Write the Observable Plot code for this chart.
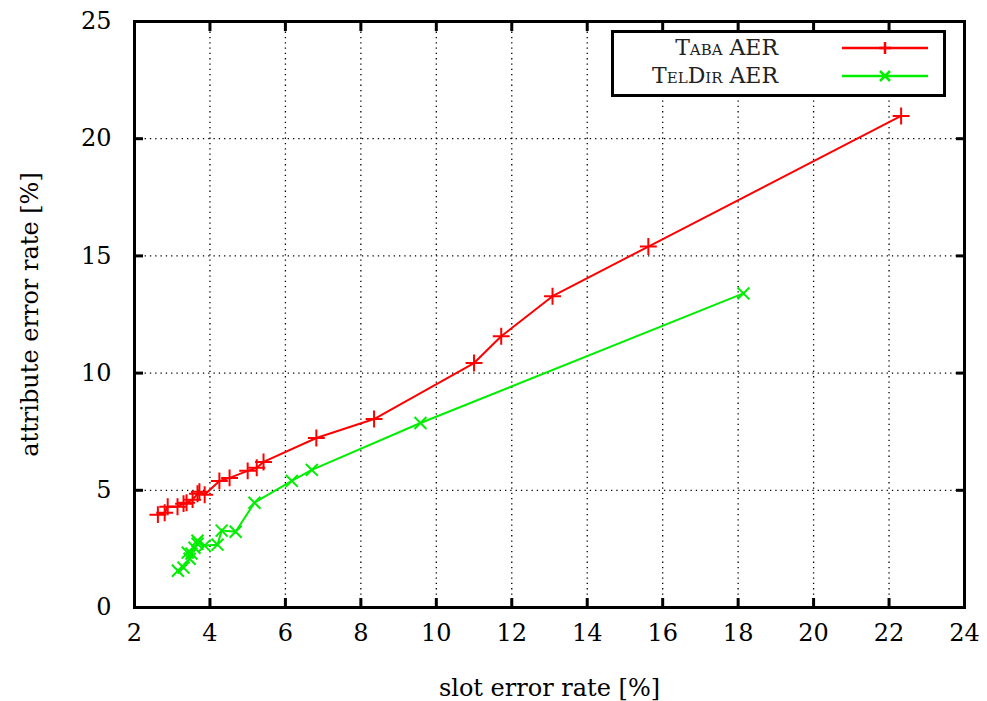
<!DOCTYPE html>
<html><head><meta charset="utf-8">
<script src="https://cdn.jsdelivr.net/npm/d3@7"></script>
<script src="https://cdn.jsdelivr.net/npm/@observablehq/plot@0.6"></script>
<style>
body{margin:0;background:#fff;}
#wrap{position:relative;width:987px;height:701px;font-family:'DejaVu Serif';}
#wrap svg text{fill:#000;}
#legend{position:absolute;left:611px;top:30px;width:329px;height:61px;border:3px solid #000;background:#fff;}
.row{position:absolute;left:0;width:100%;height:30px;}
.lab{position:absolute;right:165px;font-family:'DejaVu Serif';font-size:22px;font-variant:small-caps;color:#222;line-height:30px;}
.row svg{position:absolute;left:226px;top:0;}
</style></head><body>
<div id="wrap"></div>
<script>
const tabaX = [2.62, 2.80, 2.88, 3.14, 3.30, 3.38, 3.54, 3.67, 3.72, 3.86, 4.25, 4.52, 5.00, 5.24, 5.42, 6.82, 8.35, 11.0, 11.72, 13.08, 15.62, 22.32];
const tabaY = [3.96, 4.04, 4.30, 4.30, 4.43, 4.47, 4.60, 4.85, 4.94, 4.81, 5.40, 5.53, 5.83, 5.96, 6.21, 7.23, 8.04, 10.43, 11.57, 13.28, 15.40, 20.97];
const telX = [3.15, 3.30, 3.46, 3.41, 3.51, 3.59, 3.67, 3.67, 3.86, 4.20, 4.31, 4.68, 5.18, 6.17, 6.70, 9.58, 18.14];
const telY = [1.57, 1.70, 2.08, 2.34, 2.30, 2.55, 2.72, 2.85, 2.64, 2.68, 3.28, 3.23, 4.47, 5.40, 5.87, 7.87, 13.40];
const xTicks = [2,4,6,8,10,12,14,16,18,20,22,24];
const yTicks = [0,5,10,15,20,25];
const seriesNames = ["Taba AER", "TelDir AER"];
const axisLabels = ["slot error rate [%]", "attribute error rate [%]"];
const colors = ["#ff0000", "#00ee00"];

const taba = tabaX.map((x,i)=>({x, y: tabaY[i]}));
const tel = telX.map((x,i)=>({x, y: telY[i]}));
const font = "DejaVu Serif";

const chart = Plot.plot({
  width: 987, height: 701,
  marginLeft: 134, marginRight: 23, marginTop: 21, marginBottom: 94,
  style: "font-family:'DejaVu Serif';font-size:24px;background:#fff;color:#000;",
  x: {domain: [2, 24]},
  y: {domain: [0, 25]},
  marks: [
    Plot.gridX(xTicks, {stroke: "#000", strokeOpacity: 1, strokeWidth: 1.3, strokeDasharray: "1.3,4"}),
    Plot.gridY(yTicks, {stroke: "#000", strokeOpacity: 1, strokeWidth: 1.3, strokeDasharray: "1.3,4"}),
    Plot.axisX({ticks: xTicks, tickSize: -9, tickPadding: 25, strokeWidth: 3, fontSize: 24, fontFamily: font, label: null}),
    Plot.axisX({anchor: "top", ticks: xTicks, tickSize: -9, strokeWidth: 3, tickFormat: () => "", label: null}),
    Plot.axisY({ticks: yTicks, tickSize: -9, tickPadding: 32, strokeWidth: 3, fontSize: 24, fontFamily: font, label: null}),
    Plot.axisY({anchor: "right", ticks: yTicks, tickSize: -9, strokeWidth: 3, tickFormat: () => "", label: null}),
    Plot.text([axisLabels[0]], {frameAnchor: "bottom", dy: 88, textAnchor: "middle", fontSize: 24, fontFamily: font, fill: "#000"}),
    Plot.text([axisLabels[1]], {frameAnchor: "left", dx: -104, rotate: -90, textAnchor: "middle", fontSize: 24, fontFamily: font, fill: "#000"}),
    Plot.line(taba, {x: "x", y: "y", stroke: colors[0], strokeWidth: 2}),
    Plot.dot(taba, {x: "x", y: "y", symbol: "plus", r: 5.5, stroke: colors[0], strokeWidth: 2}),
    Plot.line(tel, {x: "x", y: "y", stroke: colors[1], strokeWidth: 2}),
    Plot.dot(tel, {x: "x", y: "y", symbol: "times", r: 5.5, stroke: colors[1], strokeWidth: 2}),
    Plot.frame({stroke: "#000", strokeWidth: 3})
  ]
});
const wrap = document.getElementById("wrap");
wrap.appendChild(chart);

const leg = document.createElement("div");
leg.id = "legend";
const syms = [
  '<path d="M0,0 h86" stroke="'+colors[0]+'" stroke-width="2.5"/><path d="M43,-6 v12 M37,0 h12" stroke="'+colors[0]+'" stroke-width="2.5"/>',
  '<path d="M0,0 h86" stroke="'+colors[1]+'" stroke-width="2.5"/><path d="M38,-5 l10,10 M38,5 l10,-10" stroke="'+colors[1]+'" stroke-width="2.5"/>'
];
seriesNames.forEach((n,i)=>{
  const r = document.createElement("div");
  r.className = "row"; r.style.top = (i*28)+"px";
  r.innerHTML = '<span class="lab">'+n+'</span><svg width="90" height="30"><g transform="translate(2,15)">'+syms[i]+'</g></svg>';
  leg.appendChild(r);
});
wrap.appendChild(leg);
</script>
</body></html>
